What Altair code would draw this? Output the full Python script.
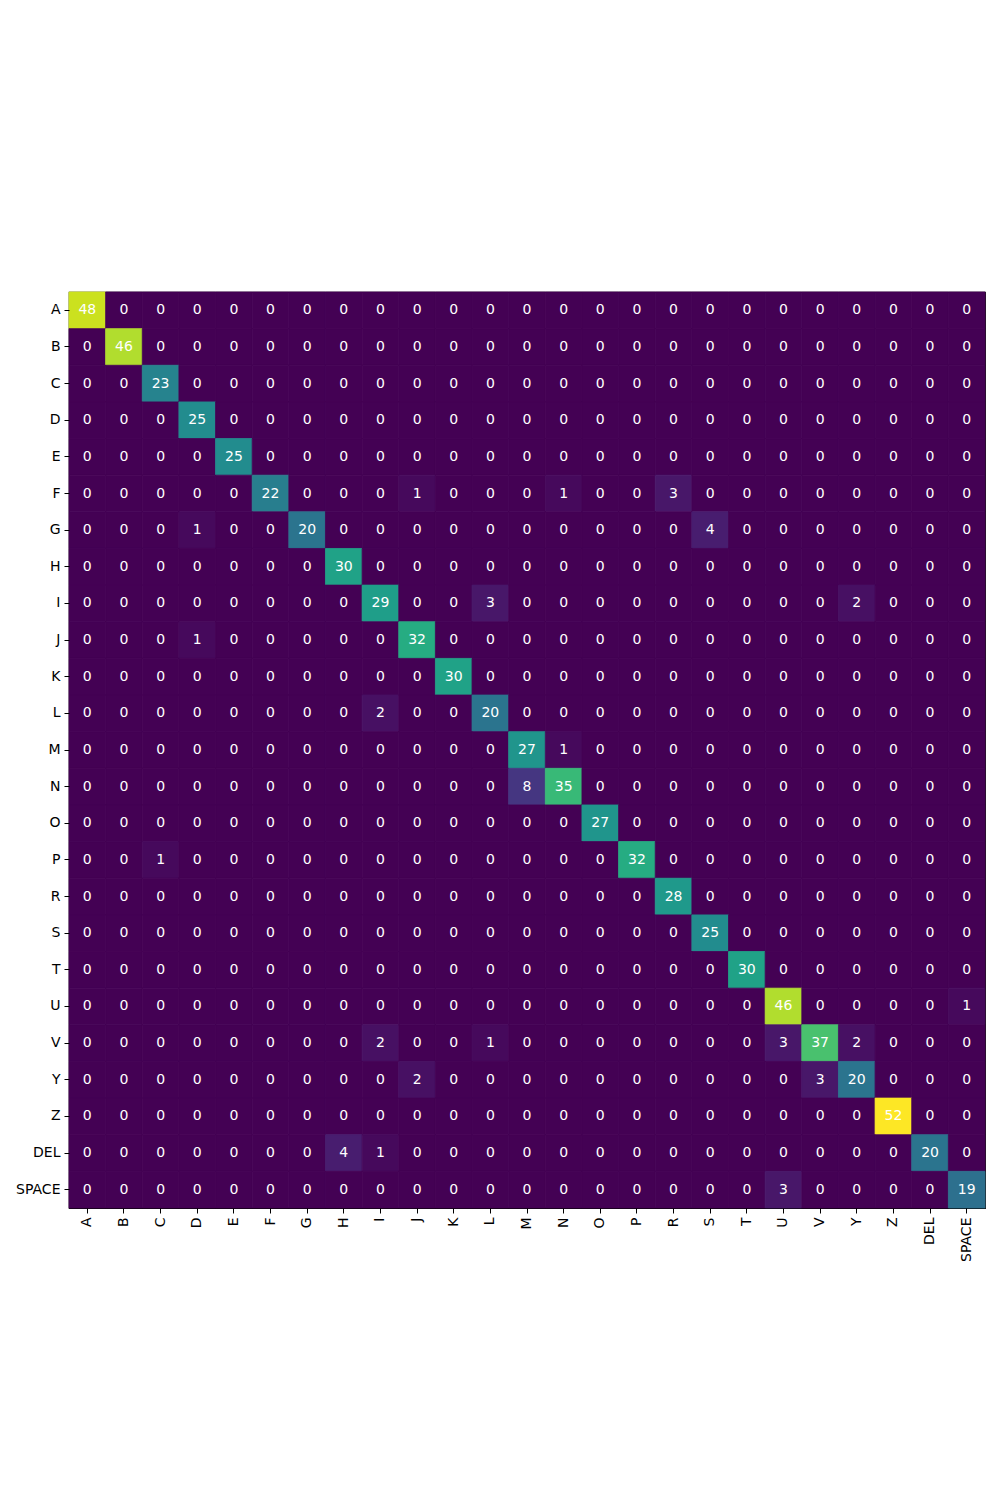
import altair as alt
import pandas as pd

labels = ["A", "B", "C", "D", "E", "F", "G", "H", "I", "J", "K", "L", "M",
          "N", "O", "P", "R", "S", "T", "U", "V", "Y", "Z", "DEL", "SPACE"]

# diagonal counts, in label order
diagonal = [48, 46, 23, 25, 25, 22, 20, 30, 29, 32, 30, 20, 27,
            35, 27, 32, 28, 25, 30, 46, 37, 20, 52, 20, 19]

# off-diagonal counts: (true, predicted, count)
off_true = ["F", "F", "F", "G", "G", "I", "I", "J", "L", "M", "N", "P",
            "U", "V", "V", "V", "V", "Y", "Y", "DEL", "DEL", "SPACE"]
off_pred = ["J", "N", "R", "D", "S", "L", "Y", "D", "I", "N", "M", "C",
            "SPACE", "I", "L", "U", "Y", "J", "V", "H", "I", "U"]
off_count = [1, 1, 3, 1, 4, 3, 2, 1, 2, 1, 8, 1,
             1, 2, 1, 3, 2, 2, 3, 4, 1, 3]

counts = {(t, p): 0 for t in labels for p in labels}
for lab, v in zip(labels, diagonal):
    counts[(lab, lab)] = v
for t, p, v in zip(off_true, off_pred, off_count):
    counts[(t, p)] = v

df = pd.DataFrame(
    [{"true": t, "pred": p, "count": counts[(t, p)]} for t in labels for p in labels]
)

axis_common = dict(labelFontSize=14, labelColor="black", tickColor="black",
                   tickSize=5, labelPadding=4, domain=False, grid=False,
                   labelFont="DejaVu Sans")

base = alt.Chart(df).encode(
    x=alt.X("pred:N", sort=labels, title=None,
            axis=alt.Axis(labelAngle=270, **axis_common)),
    y=alt.Y("true:N", sort=labels, title=None, axis=alt.Axis(**axis_common)),
)

vscale = alt.Scale(scheme="viridis", domain=[0, 52])

rects = base.mark_rect(strokeWidth=0.8).encode(
    color=alt.Color("count:Q", scale=vscale, legend=None),
    stroke=alt.Stroke("count:Q", scale=vscale, legend=None),
)

texts = base.mark_text(fontSize=14, font="DejaVu Sans", color="white").encode(
    text="count:Q"
)

chart = (rects + texts).properties(
    width=916, height=916,
    autosize=alt.AutoSizeParams(type="none"),
    padding={"left": 61, "top": 284, "right": 4, "bottom": 280},
).configure_view(stroke="black", strokeWidth=1.2)

chart.save("out.html", embed_options={"renderer": "svg", "actions": False})
